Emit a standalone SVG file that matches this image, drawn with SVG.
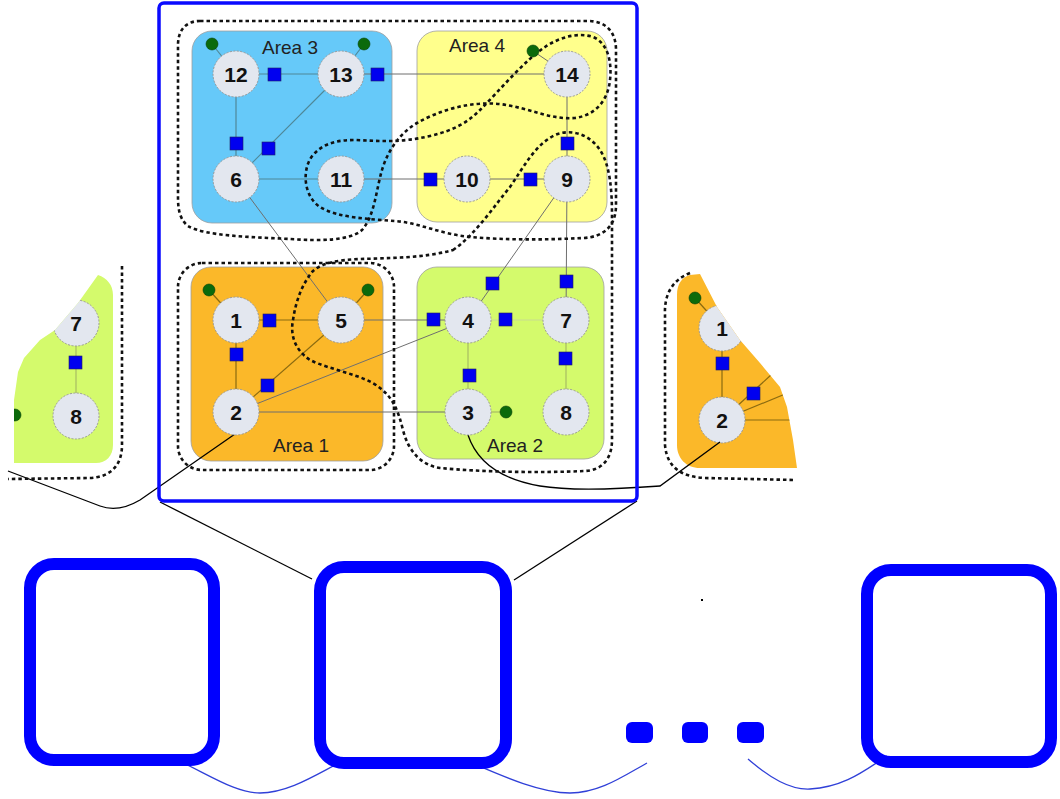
<svg xmlns="http://www.w3.org/2000/svg" width="1060" height="799" viewBox="0 0 1060 799">
<style>
.area{stroke:#a0a0a0;stroke-width:0.8}
.node circle{fill:#e3e7ef;stroke:#9a9a9a;stroke-width:1;stroke-dasharray:2,1.5}
.node text{font-family:"Liberation Sans",Arial,sans-serif;font-weight:bold;font-size:21px;text-anchor:middle;fill:#111}
.lbl{font-family:"Liberation Sans",Arial,sans-serif;font-size:19px;text-anchor:middle;fill:#222}
.e{stroke:#6f6f6f;stroke-width:1;fill:none}
.e3{stroke:#4f8797;stroke-width:1.2;fill:none}
.e1{stroke:#8a6a10;stroke-width:1.2;fill:none}
.e2{stroke:#9fb060;stroke-width:1;fill:none}
.el{stroke:#c8dc90;stroke-width:1.2;fill:none}
.sq{fill:#0000f0;stroke:#202060;stroke-width:0.6}
.gd{fill:#0b6a0b;stroke:#064006;stroke-width:0.6}
.dash{fill:none;stroke:#111;stroke-width:2.6;stroke-dasharray:3.5,3}
.blk{fill:none;stroke:#000;stroke-width:1.3}
.box{fill:none;stroke:#0000ff;stroke-width:12}
.thin{fill:none;stroke:#3040d8;stroke-width:1.3}
</style>
<defs>
<clipPath id="clipL"><path d="M14,463 L14,400 L18,372 L24,358 L40,340 L55,330 L78,303 L98,275 C107,278 113,285 113,295 L113,445 C113,456 106,463 96,463 Z"/></clipPath>
<clipPath id="clipR"><path d="M690,275 L700,274 L717,307 L740,340 L760,363 L780,387 L787,407 L793,440 L797,468 L700,468 C686,468 677,458 677,445 L677,295 C677,284 682,277 690,275 Z"/></clipPath>
</defs>
<rect width="1060" height="799" fill="#fff"/>

<!-- areas -->
<g id="area3"><rect class="area" x="192" y="31" width="200" height="192" rx="20" fill="#66c9f9"/><text class="lbl" x="290" y="54">Area 3</text></g>
<g id="area4"><rect class="area" x="417" y="31" width="190" height="191" rx="20" fill="#ffff8c"/><text class="lbl" x="477" y="52">Area 4</text></g>
<g id="area1"><rect class="area" x="191" y="267" width="192" height="194" rx="20" fill="#fbb829"/><text class="lbl" x="301" y="452">Area 1</text></g>
<g id="area2"><rect class="area" x="417" y="267" width="187" height="192" rx="20" fill="#d4fa6c"/><text class="lbl" x="515" y="452">Area 2</text></g>

<!-- partial left -->
<g id="partialLeft" clip-path="url(#clipL)">
<rect x="0" y="260" width="130" height="210" fill="#d4fa6c"/>
<line class="e2" x1="76" y1="323" x2="76" y2="416"/>
<circle cx="15" cy="415" r="6" class="gd"/>
<g class="node"><circle cx="76" cy="323" r="23"/><text x="76" y="331">7</text></g>
<g class="node"><circle cx="76" cy="416" r="23"/><text x="76" y="424">8</text></g>
<rect class="sq" x="69" y="356" width="13" height="13"/>
</g>
<!-- partial right -->
<g id="partialRight" clip-path="url(#clipR)">
<rect x="670" y="265" width="135" height="210" fill="#fbb829"/>
<line class="e1" x1="722" y1="328" x2="722" y2="420"/>
<line class="e1" x1="722" y1="420" x2="800" y2="420"/>
<line class="e1" x1="722" y1="420" x2="790" y2="392"/>
<line class="e1" x1="722" y1="420" x2="772" y2="374"/>
<line class="e1" x1="695" y1="298" x2="722" y2="328"/>
<circle cx="695" cy="298" r="6" class="gd"/>
<g class="node"><circle cx="722" cy="328" r="23"/><text x="722" y="336">1</text></g>
<g class="node"><circle cx="722" cy="420" r="23"/><text x="722" y="428">2</text></g>
<rect class="sq" x="716" y="357" width="13" height="13"/>
<rect class="sq" x="747" y="387" width="13" height="13"/>
</g>

<!-- connectors -->
<g id="connectors">
<line class="e3" x1="236" y1="74" x2="341" y2="74"/>
<line class="e" x1="341" y1="74" x2="567" y2="74"/>
<line class="e3" x1="236" y1="74" x2="236" y2="179"/>
<line class="e3" x1="341" y1="74" x2="236" y2="179"/>
<line class="e3" x1="236" y1="179" x2="341" y2="179"/>
<line class="e" x1="341" y1="179" x2="467" y2="179"/>
<line class="e" x1="467" y1="179" x2="567" y2="179"/>
<line class="e" x1="567" y1="74" x2="567" y2="179"/>
<line class="e" x1="236" y1="179" x2="341" y2="320" stroke-width="0.8"/>
<line class="e" x1="567" y1="179" x2="468" y2="320" stroke-width="0.8"/>
<line class="e" x1="567" y1="179" x2="566" y2="320" stroke-width="0.8"/>
<line class="e1" x1="236" y1="320" x2="341" y2="320"/>
<line class="e1" x1="236" y1="320" x2="236" y2="412"/>
<line class="e1" x1="236" y1="412" x2="341" y2="320"/>
<line class="e" x1="341" y1="320" x2="468" y2="320"/>
<line class="e" x1="236" y1="412" x2="468" y2="320" stroke-width="0.8"/>
<line class="e" x1="236" y1="412" x2="468" y2="412" stroke-width="0.8"/>
<line class="el" x1="468" y1="320" x2="566" y2="320"/>
<line class="e2" x1="468" y1="320" x2="468" y2="412"/>
<line class="e2" x1="566" y1="320" x2="566" y2="412"/>
<line class="e3" x1="212" y1="44" x2="236" y2="74"/>
<line class="e3" x1="364" y1="44" x2="341" y2="74"/>
<line class="e" x1="533" y1="51" x2="567" y2="74"/>
<line class="e1" x1="209" y1="290" x2="236" y2="320"/>
<line class="e1" x1="368" y1="290" x2="341" y2="320"/>
<line class="e2" x1="468" y1="412" x2="506" y2="412" stroke="#556b2f"/>

<path class="blk" d="M8,471 L100,506 Q118,513 140,500 L235,434"/>
<path class="blk" d="M468,435 C478,465 505,480 540,486 C570,491 620,489 660,486 L720,442"/>
<line class="blk" x1="160" y1="502" x2="312" y2="579"/>
<line class="blk" x1="637" y1="501" x2="514" y2="580"/>

<path class="dash" d="M200,21 L588,21 C606,21 616,32 616,50 L616,205 C616,226 604,237 583,238 C545,240 505,240 470,237 C440,234 420,223 395,221 C370,219 338,218 320,207 C302,195 302,166 314,154 C325,142 340,140 355,140 C380,141 400,143 430,136 C455,130 468,122 480,110 C500,90 525,60 545,47 C560,37 578,32 593,37 C608,43 612,62 610,80 C608,100 596,115 575,118 C550,120 530,108 500,104 C470,101 440,110 417,123 C400,133 388,150 382,170 C376,190 375,215 362,230 C350,241 320,241 290,239 C250,237 205,236 188,226 C178,218 178,205 178,195 L178,45 C178,30 186,21 200,21 Z"/>
<path class="dash" d="M453,250 C475,235 495,205 510,187 C525,165 535,145 555,135 C572,128 590,135 600,150 C610,165 612,190 612,215 L612,440 C612,458 603,470 585,471 C540,473 480,472 440,468 C420,465 408,450 403,430 C398,410 393,398 380,388 C365,375 330,370 310,360 C295,350 290,335 293,320 C296,300 302,285 312,272 C322,262 340,260 360,259 C390,258 425,258 453,250 Z"/>
<rect class="dash" x="178" y="263" width="216" height="207" rx="24"/>
<path class="dash" d="M122,266 L122,445 C122,466 110,477 90,478 L8,479"/>
<path class="dash" d="M690,273 C672,280 664,295 665,315 L665,445 C667,468 682,477 705,478 L795,480"/>

<path class="thin" d="M173,758 C210,775 235,793 260,793 C290,793 320,772 345,760"/>
<path class="thin" d="M472,763 C500,775 540,793 570,793 C600,793 625,775 647,763"/>
<path class="thin" d="M748,759 C770,778 790,790 810,789 C845,787 865,770 887,756"/>
</g>

<!-- squares -->
<g id="switches">
<rect class="sq" x="268" y="68" width="13" height="13"/>
<rect class="sq" x="371" y="68" width="13" height="13"/>
<rect class="sq" x="230" y="137" width="13" height="13"/>
<rect class="sq" x="262" y="142" width="13" height="13"/>
<rect class="sq" x="424" y="173" width="13" height="13"/>
<rect class="sq" x="524" y="173" width="13" height="13"/>
<rect class="sq" x="561" y="137" width="13" height="13"/>
<rect class="sq" x="263" y="314" width="13" height="13"/>
<rect class="sq" x="230" y="348" width="13" height="13"/>
<rect class="sq" x="261" y="379" width="13" height="13"/>
<rect class="sq" x="486" y="277" width="13" height="13"/>
<rect class="sq" x="427" y="313" width="13" height="13"/>
<rect class="sq" x="499" y="313" width="13" height="13"/>
<rect class="sq" x="560" y="275" width="13" height="13"/>
<rect class="sq" x="559" y="352" width="13" height="13"/>
<rect class="sq" x="463" y="369" width="13" height="13"/>
</g>
<g id="dots">
<circle class="gd" cx="212" cy="44" r="6"/>
<circle class="gd" cx="364" cy="44" r="6"/>
<circle class="gd" cx="533" cy="51" r="6"/>
<circle class="gd" cx="209" cy="290" r="6"/>
<circle class="gd" cx="368" cy="290" r="6"/>
<circle class="gd" cx="506" cy="412" r="6"/>
</g>

<g id="n12" class="node"><circle cx="236" cy="74" r="23"/><text x="236" y="82">12</text></g>
<g id="n13" class="node"><circle cx="341" cy="74" r="23"/><text x="341" y="82">13</text></g>
<g id="n14" class="node"><circle cx="567" cy="74" r="23"/><text x="567" y="82">14</text></g>
<g id="n6" class="node"><circle cx="236" cy="179" r="23"/><text x="236" y="187">6</text></g>
<g id="n11" class="node"><circle cx="341" cy="179" r="23"/><text x="341" y="187">11</text></g>
<g id="n10" class="node"><circle cx="467" cy="179" r="23"/><text x="467" y="187">10</text></g>
<g id="n9" class="node"><circle cx="567" cy="179" r="23"/><text x="567" y="187">9</text></g>
<g id="n1" class="node"><circle cx="236" cy="320" r="23"/><text x="236" y="328">1</text></g>
<g id="n5" class="node"><circle cx="341" cy="320" r="23"/><text x="341" y="328">5</text></g>
<g id="n4" class="node"><circle cx="468" cy="320" r="23"/><text x="468" y="328">4</text></g>
<g id="n7" class="node"><circle cx="566" cy="320" r="23"/><text x="566" y="328">7</text></g>
<g id="n2" class="node"><circle cx="236" cy="412" r="23"/><text x="236" y="420">2</text></g>
<g id="n3" class="node"><circle cx="468" cy="412" r="23"/><text x="468" y="420">3</text></g>
<g id="n8" class="node"><circle cx="566" cy="412" r="23"/><text x="566" y="420">8</text></g>

<g id="frame"><rect x="159" y="3" width="478" height="498" rx="5" fill="none" stroke="#0a0aff" stroke-width="3.5"/></g>

<g id="boxes">
<rect class="box" x="30" y="564" width="184" height="196" rx="24"/>
<rect class="box" x="320" y="567" width="186" height="196" rx="24"/>
<rect class="box" x="867" y="570" width="184" height="192" rx="24"/>
<rect x="626" y="722" width="27" height="21" rx="6" fill="#0000ff"/>
<rect x="682" y="722" width="26" height="21" rx="6" fill="#0000ff"/>
<rect x="737" y="722" width="27" height="21" rx="6" fill="#0000ff"/>
<rect x="701" y="599" width="2" height="2" fill="#000"/>
</g>
</svg>
